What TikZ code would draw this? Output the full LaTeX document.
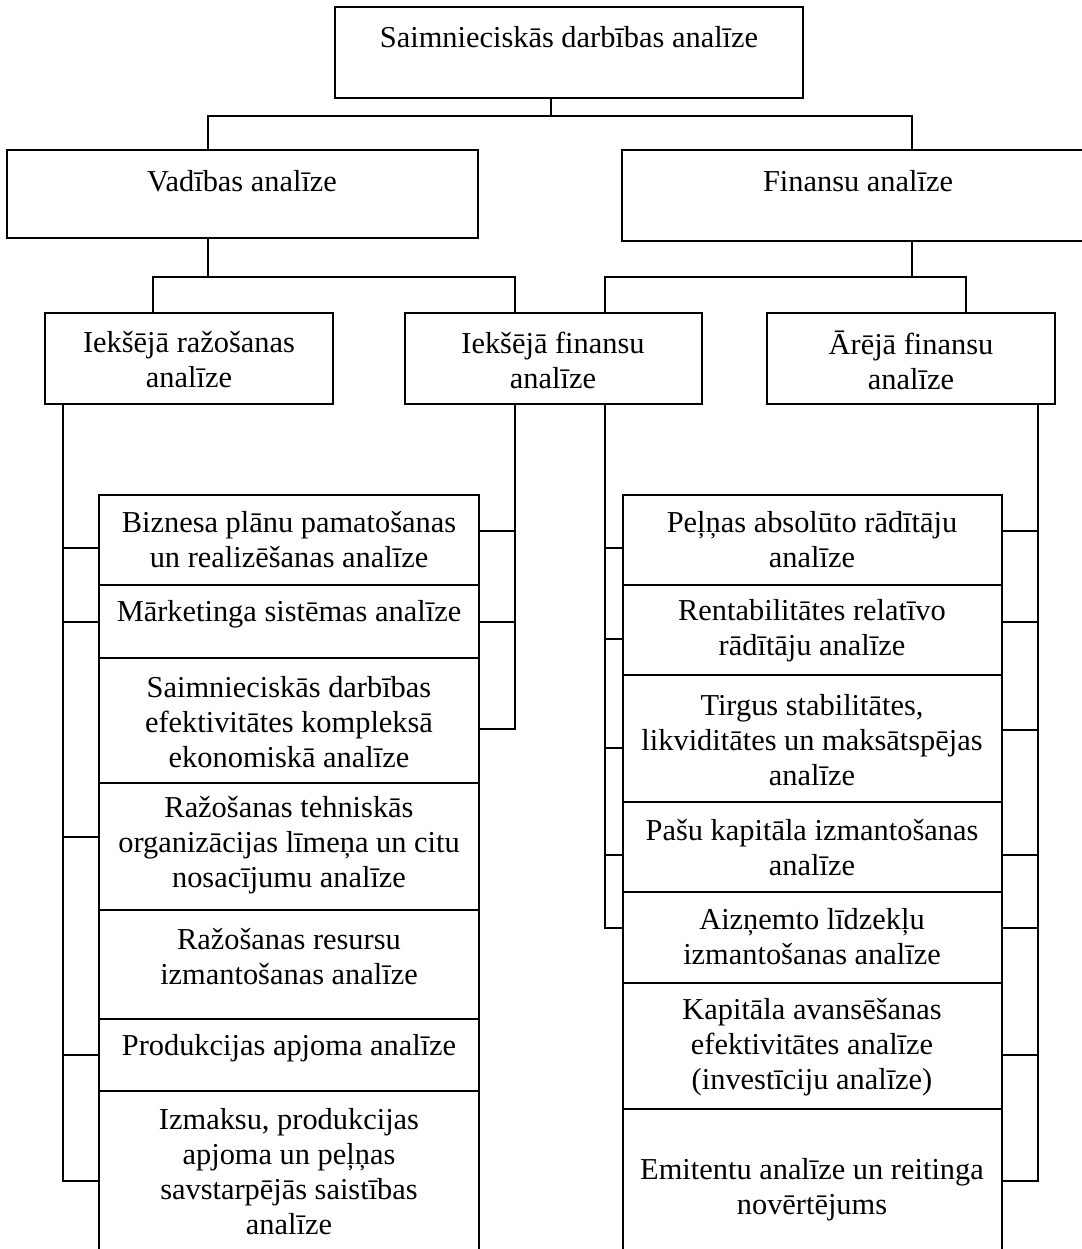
\documentclass[tikz,border=0pt]{standalone}
\usepackage{fontspec}
\setmainfont{Liberation Serif}
\begin{document}
\begin{tikzpicture}[x=0.5pt,y=-0.5pt,
  box/.style={draw,line width=1pt,inner sep=0pt,outer sep=0pt,anchor=north west},
  txt/.style={align=center,inner sep=0pt,font=\fontsize{15.2}{17.5}\selectfont},
  wire/.style={line width=1pt,line cap=rect}]
\useasboundingbox (0,0) rectangle (1082,1249);
% level 0 and 1
\node[box,minimum width=234pt,minimum height=45.5pt] (top) at (335,7) {};
\node[box,minimum width=235.5pt,minimum height=44pt] (vad) at (7,150) {};
\node[box,minimum width=240pt,minimum height=45.5pt] (fin) at (622,150) {};
\node[txt] (topt) at (569,37) {Saimnieciskās darbības analīze};
\node[txt] (vadt) at (242,181) {Vadības analīze};
\node[txt] (fint) at (858,181) {Finansu analīze};
% level 2
\node[box,minimum width=144pt,minimum height=45.5pt] (ir) at (45,313) {};
\node[box,minimum width=148.5pt,minimum height=45.5pt] (if) at (405,313) {};
\node[box,minimum width=144pt,minimum height=45.5pt] (af) at (767,313) {};
\node[txt] (irt) at (189,360) {Iekšējā ražošanas\\analīze};
\node[txt] (ift) at (553,360) {Iekšējā finansu\\analīze};
\node[txt] (aft) at (911,360) {Ārējā finansu\\analīze};
% left column
\node[box,minimum width=190pt,minimum height=45pt] (L1) at (99,495) {};
\node[box,minimum width=190pt,minimum height=36.5pt] (L2) at (99,585) {};
\node[box,minimum width=190pt,minimum height=62.5pt] (L3) at (99,658) {};
\node[box,minimum width=190pt,minimum height=63.5pt] (L4) at (99,783) {};
\node[box,minimum width=190pt,minimum height=54.5pt] (L5) at (99,910) {};
\node[box,minimum width=190pt,minimum height=36pt] (L6) at (99,1019) {};
\node[box,minimum width=190pt,minimum height=84.5pt] (L7) at (99,1091) {};
\node[txt] (L1t) at (289,540) {Biznesa plānu pamatošanas\\un realizēšanas analīze};
\node[txt] (L2t) at (289,614) {Mārketinga sistēmas analīze};
\node[txt] (L3t) at (289,722) {Saimnieciskās darbības\\efektivitātes kompleksā\\ekonomiskā analīze};
\node[txt] (L4t) at (289,845) {Ražošanas tehniskās\\organizācijas līmeņa un citu\\nosacījumu analīze};
\node[txt] (L5t) at (289,957) {Ražošanas resursu\\izmantošanas analīze};
\node[txt] (L6t) at (289,1048) {Produkcijas apjoma analīze};
\node[txt] (L7t) at (289,1172) {Izmaksu, produkcijas\\apjoma un peļņas\\savstarpējās saistības\\analīze};
% right column
\node[box,minimum width=189.5pt,minimum height=45pt] (R1) at (623,495) {};
\node[box,minimum width=189.5pt,minimum height=45pt] (R2) at (623,585) {};
\node[box,minimum width=189.5pt,minimum height=63.5pt] (R3) at (623,675) {};
\node[box,minimum width=189.5pt,minimum height=45pt] (R4) at (623,802) {};
\node[box,minimum width=189.5pt,minimum height=45.5pt] (R5) at (623,892) {};
\node[box,minimum width=189.5pt,minimum height=63pt] (R6) at (623,983) {};
\node[box,minimum width=189.5pt,minimum height=75.5pt] (R7) at (623,1109) {};
\node[txt] (R1t) at (812,540) {Peļņas absolūto rādītāju\\analīze};
\node[txt] (R2t) at (812,631) {Rentabilitātes relatīvo\\rādītāju analīze};
\node[txt] (R3t) at (812,740) {Tirgus stabilitātes,\\likviditātes un maksātspējas\\analīze};
\node[txt] (R4t) at (812,848) {Pašu kapitāla izmantošanas\\analīze};
\node[txt] (R5t) at (812,937) {Aizņemto līdzekļu\\izmantošanas analīze};
\node[txt] (R6t) at (812,1047) {Kapitāla avansēšanas\\efektivitātes analīze\\(investīciju analīze)};
\node[txt] (R7t) at (812,1190) {Emitentu analīze un reitinga\\novērtējums};
% connectors top
\coordinate (j0) at (551,116);
\coordinate (jv) at (208,116);
\coordinate (jf) at (912,116);
\draw[wire] (top.south -| j0) -- (j0);
\draw[wire] (jv |- vad.north) -- (jv) -- (jf) -- (jf |- fin.north);
\coordinate (kv) at (208,277);
\coordinate (kvl) at (153,277);
\coordinate (kvr) at (515,277);
\draw[wire] (vad.south -| kv) -- (kv);
\draw[wire] (kvl |- ir.north) -- (kvl) -- (kvr) -- (kvr |- if.north);
\coordinate (kf) at (912,277);
\coordinate (kfl) at (605,277);
\coordinate (kfr) at (966,277);
\draw[wire] (fin.south -| kf) -- (kf);
\draw[wire] (kfl |- if.north) -- (kfl) -- (kfr) -- (kfr |- af.north);
% rails
\coordinate (rl) at (63,1181);
\draw[wire] (ir.south -| rl) -- (rl);
\foreach \b/\y in {L1/548,L2/622,L4/837,L6/1055,L7/1181}
  \draw[wire] (rl |- 0,\y) -- (\b.west |- 0,\y);
\coordinate (rm) at (515,729);
\draw[wire] (if.south -| rm) -- (rm);
\foreach \b/\y in {L1/531,L2/622,L3/729}
  \draw[wire] (rm |- 0,\y) -- (\b.east |- 0,\y);
\coordinate (rn) at (605,928);
\draw[wire] (if.south -| rn) -- (rn);
\foreach \b/\y in {R1/548,R2/639,R3/748,R4/855,R5/928}
  \draw[wire] (rn |- 0,\y) -- (\b.west |- 0,\y);
\coordinate (ro) at (1038,1181);
\draw[wire] (af.south -| ro) -- (ro);
\foreach \b/\y in {R1/531,R2/622,R3/730,R4/855,R5/928,R6/1055,R7/1181}
  \draw[wire] (ro |- 0,\y) -- (\b.east |- 0,\y);
\end{tikzpicture}
\end{document}
